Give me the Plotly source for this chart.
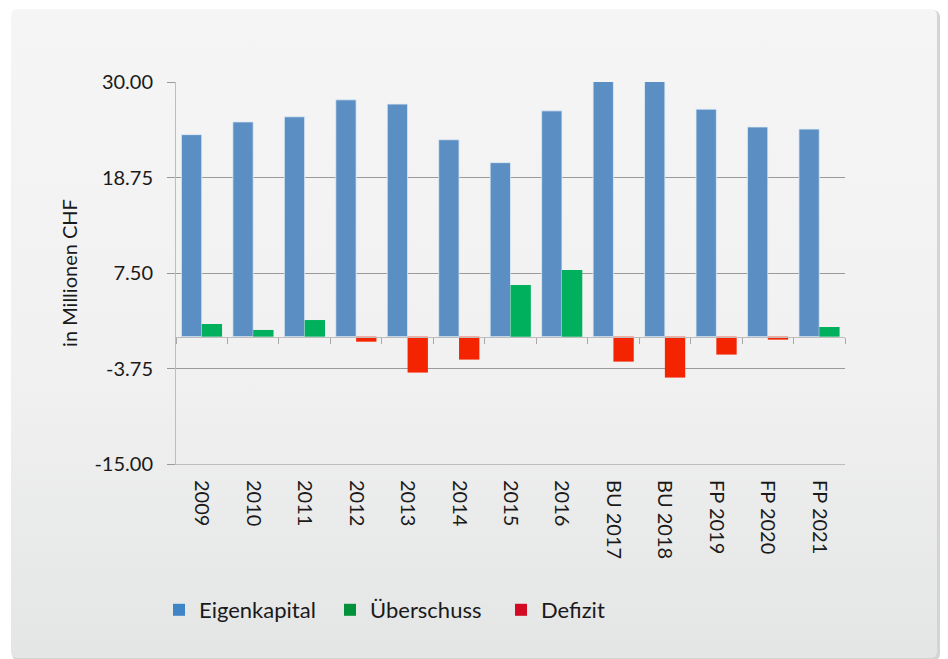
import base64
import plotly.graph_objects as go

categories = ["2009", "2010", "2011", "2012", "2013", "2014", "2015", "2016",
              "BU 2017", "BU 2018", "FP 2019", "FP 2020", "FP 2021"]
eigenkapital = [23.8, 25.3, 25.9, 27.9, 27.4, 23.2, 20.5, 26.6, 30.6, 30.4, 26.8, 24.7, 24.45]
ueberschuss = [1.49, 0.79, 1.96, None, None, None, 6.08, 7.84, None, None, None, None, 1.14]
defizit = [None, None, None, -0.59, -4.23, -2.7, None, None, -2.94, -4.82, -2.11, -0.35, None]
y_ticks = [-15.0, -3.75, 7.5, 18.75, 30.0]

# the page body adds an 8px offset; figure is laid out in its own coordinates
OFF = 8
W, H = 940, 651
ML, MT = 176 - OFF, 82 - OFF
PW, PH = 669, 382
MR, MB = W - ML - PW, H - MT - PH

cx, cy, cw, ch = 11 - OFF, 9 - OFF, 926, 649
svg = f'''<svg xmlns="http://www.w3.org/2000/svg" width="{W}" height="{H}" viewBox="0 0 {W} {H}" preserveAspectRatio="none">
<defs><linearGradient id="g" x1="0" y1="0" x2="0" y2="1">
<stop offset="0" stop-color="#f5f5f5"/><stop offset="0.55" stop-color="#f1f1f1"/><stop offset="1" stop-color="#e4e5e5"/></linearGradient></defs>
<rect x="0" y="0" width="{W}" height="{H}" fill="#ffffff"/>
<rect x="{cx + 1}" y="{cy + 1}" width="{cw + 2}" height="{ch + 2}" rx="7" fill="#d4d4d4"/>
<rect x="{cx}" y="{cy}" width="{cw}" height="{ch}" rx="6" fill="url(#g)"/>
</svg>'''
src = "data:image/svg+xml;base64," + base64.b64encode(svg.encode()).decode()

fig = go.Figure()
line = dict(color="rgba(225,235,245,0.8)", width=1)
fig.add_trace(go.Bar(x=categories, y=eigenkapital, name="Eigenkapital", offsetgroup="a",
                     marker=dict(color="#5b8fc3", line=line), showlegend=False))
fig.add_trace(go.Bar(x=categories, y=ueberschuss, name="Überschuss", offsetgroup="b",
                     marker=dict(color="#00b05c", line=dict(width=0)), showlegend=False))
fig.add_trace(go.Bar(x=categories, y=defizit, name="Defizit", offsetgroup="b",
                     marker=dict(color="#f42300", line=dict(width=0)), showlegend=False))
# legend entries (legend swatches use slightly different tones in the reference)
for nm, col in [("Eigenkapital", "#3f85c5"), ("Überschuss", "#00913a"), ("Defizit", "#d20a22")]:
    fig.add_trace(go.Scatter(x=[None], y=[None], mode="markers", name=nm,
                             marker=dict(symbol="square", size=15, color=col)))
# zero-line axis with category boundary ticks
fig.add_trace(go.Scatter(x=categories, y=[0] * len(categories), xaxis="x2", mode="markers",
                         marker=dict(opacity=0), showlegend=False, hoverinfo="skip"))

font = "Lato, 'Open Sans', sans-serif"
fig.update_layout(
    width=W, height=H,
    margin=dict(l=ML, r=MR, t=MT, b=MB),
    paper_bgcolor="rgba(0,0,0,0)", plot_bgcolor="rgba(0,0,0,0)",
    barmode="group", bargap=0.21, bargroupgap=0,
    font=dict(family=font, size=20, color="#1a1a1a"),
    images=[dict(source=src, xref="paper", yref="paper",
                 x=-ML / PW, y=1 + MT / PH, sizex=W / PW, sizey=H / PH,
                 xanchor="left", yanchor="top", sizing="stretch", layer="below")],
    xaxis=dict(type="category", range=[-0.5, len(categories) - 0.5], tickangle=90,
               showline=True, linecolor="#bdbdbd", linewidth=1, showgrid=False,
               ticks="", ticklabelstandoff=11, tickfont=dict(size=20, color="#1a1a1a")),
    xaxis2=dict(type="category", overlaying="x", anchor="free", position=1 / 3,
                range=[-0.5, len(categories) - 0.5], showline=True, linecolor="#bdbdbd",
                linewidth=1, ticks="outside", tickson="boundaries", ticklen=6,
                tickcolor="#a8a8a8", showticklabels=False, showgrid=False),
    yaxis=dict(range=[-15, 30], tickvals=y_ticks, ticktext=[f"{v:.2f}" for v in y_ticks],
               showgrid=True, gridcolor="#9a9a9a", gridwidth=1, zeroline=False,
               showline=True, linecolor="#bdbdbd", linewidth=1,
               ticks="outside", ticklen=8, tickcolor="#9a9a9a", ticklabelstandoff=10,
               tickfont=dict(size=20, color="#1a1a1a"),
               title=dict(text="in Millionen CHF", font=dict(size=20), standoff=11)),
    legend=dict(orientation="h", x=-17 / PW, xanchor="left", y=(PH + MT - (610 - OFF)) / PH,
                yanchor="middle", font=dict(size=22), bgcolor="rgba(0,0,0,0)",
                entrywidth=126, entrywidthmode="pixels",
                itemsizing="constant", traceorder="normal"),
)
fig.write_html("out.html")
